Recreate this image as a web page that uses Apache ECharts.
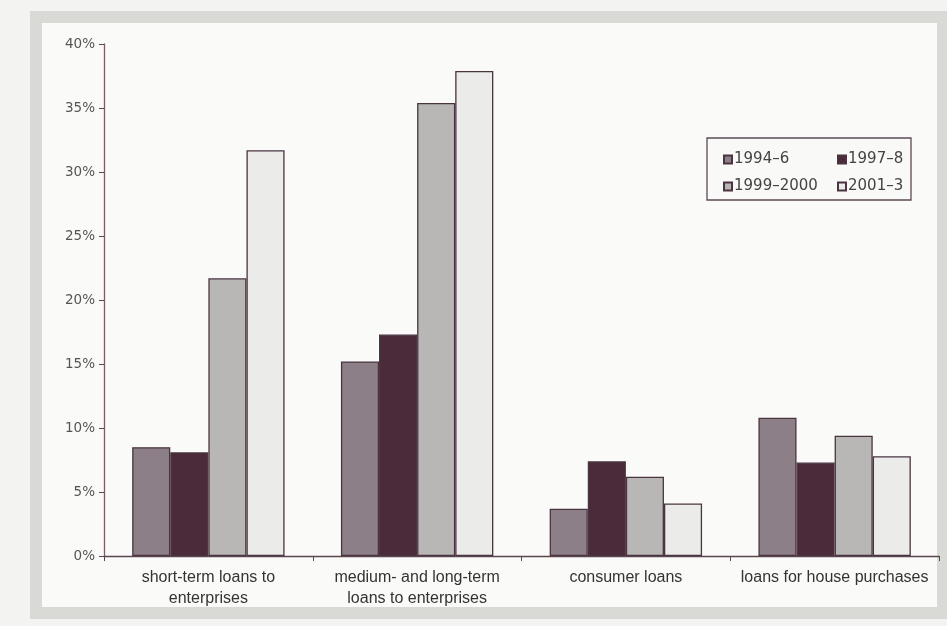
<!DOCTYPE html>
<html>
<head>
<meta charset="utf-8">
<script src="https://cdn.jsdelivr.net/npm/echarts@6/dist/echarts.min.js"></script>
<style>
  html, body { margin: 0; padding: 0; background: #f3f3f1; }
  #chart { width: 947px; height: 626px; }
</style>
</head>
<body>
<div id="chart"></div>
<script>
// Loan categories along the x axis
const categories = [
  'short-term loans to\nenterprises',
  'medium- and long-term\nloans to enterprises',
  'consumer loans',
  'loans for house purchases'
];

// Period names for the four bar series
const periods = ['1994–6', '1997–8', '1999–2000', '2001–3'];

// Growth rates (%) per category for each period
const values1994_6    = [8.5, 15.2, 3.7, 10.8];
const values1997_8    = [8.1, 17.3, 7.4, 7.3];
const values1999_2000 = [21.7, 35.4, 6.2, 9.4];
const values2001_3    = [31.7, 37.9, 4.1, 7.8];

// Value axis ticks
const yMin = 0, yMax = 40, yStep = 5;

const seriesValues = [values1994_6, values1997_8, values1999_2000, values2001_3];
const fills = ['#8d7f87', '#4b2b39', '#b9b7b5', '#ebebe9'];
const edge = '#4a3440';

const chart = echarts.init(document.getElementById('chart'), null, { renderer: 'canvas' });

const series = periods.map((name, i) => ({
  name: name,
  type: 'bar',
  data: seriesValues[i],
  barGap: '0%',
  barCategoryGap: '27%',
  itemStyle: { color: fills[i], borderColor: edge, borderWidth: 1.3 }
}));

const legendText = {
  color: '#444', fontSize: 15, lineHeight: 17,
  fontFamily: 'DejaVu Sans, Verdana, sans-serif',
  padding: [0, 0, 0, -3]
};

chart.setOption({
  backgroundColor: '#f3f3f1',
  animation: false,
  graphic: [
    // printed frame around the figure
    {
      type: 'rect', z: -10,
      shape: { x: 36, y: 17, width: 907, height: 596 },
      style: { fill: '#fafaf8', stroke: '#d9d9d6', lineWidth: 12 }
    },
    // legend box
    {
      type: 'rect', z: 5,
      shape: { x: 707, y: 138, width: 204, height: 62 },
      style: { fill: '#f9f9f7', stroke: '#5c4a55', lineWidth: 1.3 }
    }
  ],
  grid: { left: 104, right: 8, top: 44, bottom: 70 },
  legend: [
    {
      data: [periods[0], periods[2]],
      orient: 'vertical', left: 718, top: 146, itemGap: 10,
      itemWidth: 8, itemHeight: 8, icon: 'rect',
      textStyle: legendText, z: 10
    },
    {
      data: [periods[1], periods[3]],
      orient: 'vertical', left: 832, top: 146, itemGap: 10,
      itemWidth: 8, itemHeight: 8, icon: 'rect',
      textStyle: legendText, z: 10
    }
  ],
  xAxis: {
    type: 'category',
    data: categories,
    axisLine: { lineStyle: { color: '#5a4550', width: 1.3 } },
    axisTick: { show: true, length: 5, lineStyle: { color: '#5a4550' } },
    axisLabel: {
      color: '#333', fontSize: 16, lineHeight: 21, margin: 11,
      fontFamily: 'Liberation Sans Narrow, Arial Narrow, sans-serif',
      interval: 0
    }
  },
  yAxis: {
    type: 'value',
    min: yMin, max: yMax, interval: yStep,
    axisLine: { show: true, lineStyle: { color: '#7d5d66', width: 1.3 } },
    axisTick: { show: true, length: 5, lineStyle: { color: '#5a4550' } },
    splitLine: { show: false },
    axisLabel: {
      formatter: '{value}%', color: '#555', fontSize: 13.5, margin: 9,
      fontFamily: 'DejaVu Sans, Verdana, sans-serif'
    }
  },
  series: series
});
</script>
</body>
</html>
